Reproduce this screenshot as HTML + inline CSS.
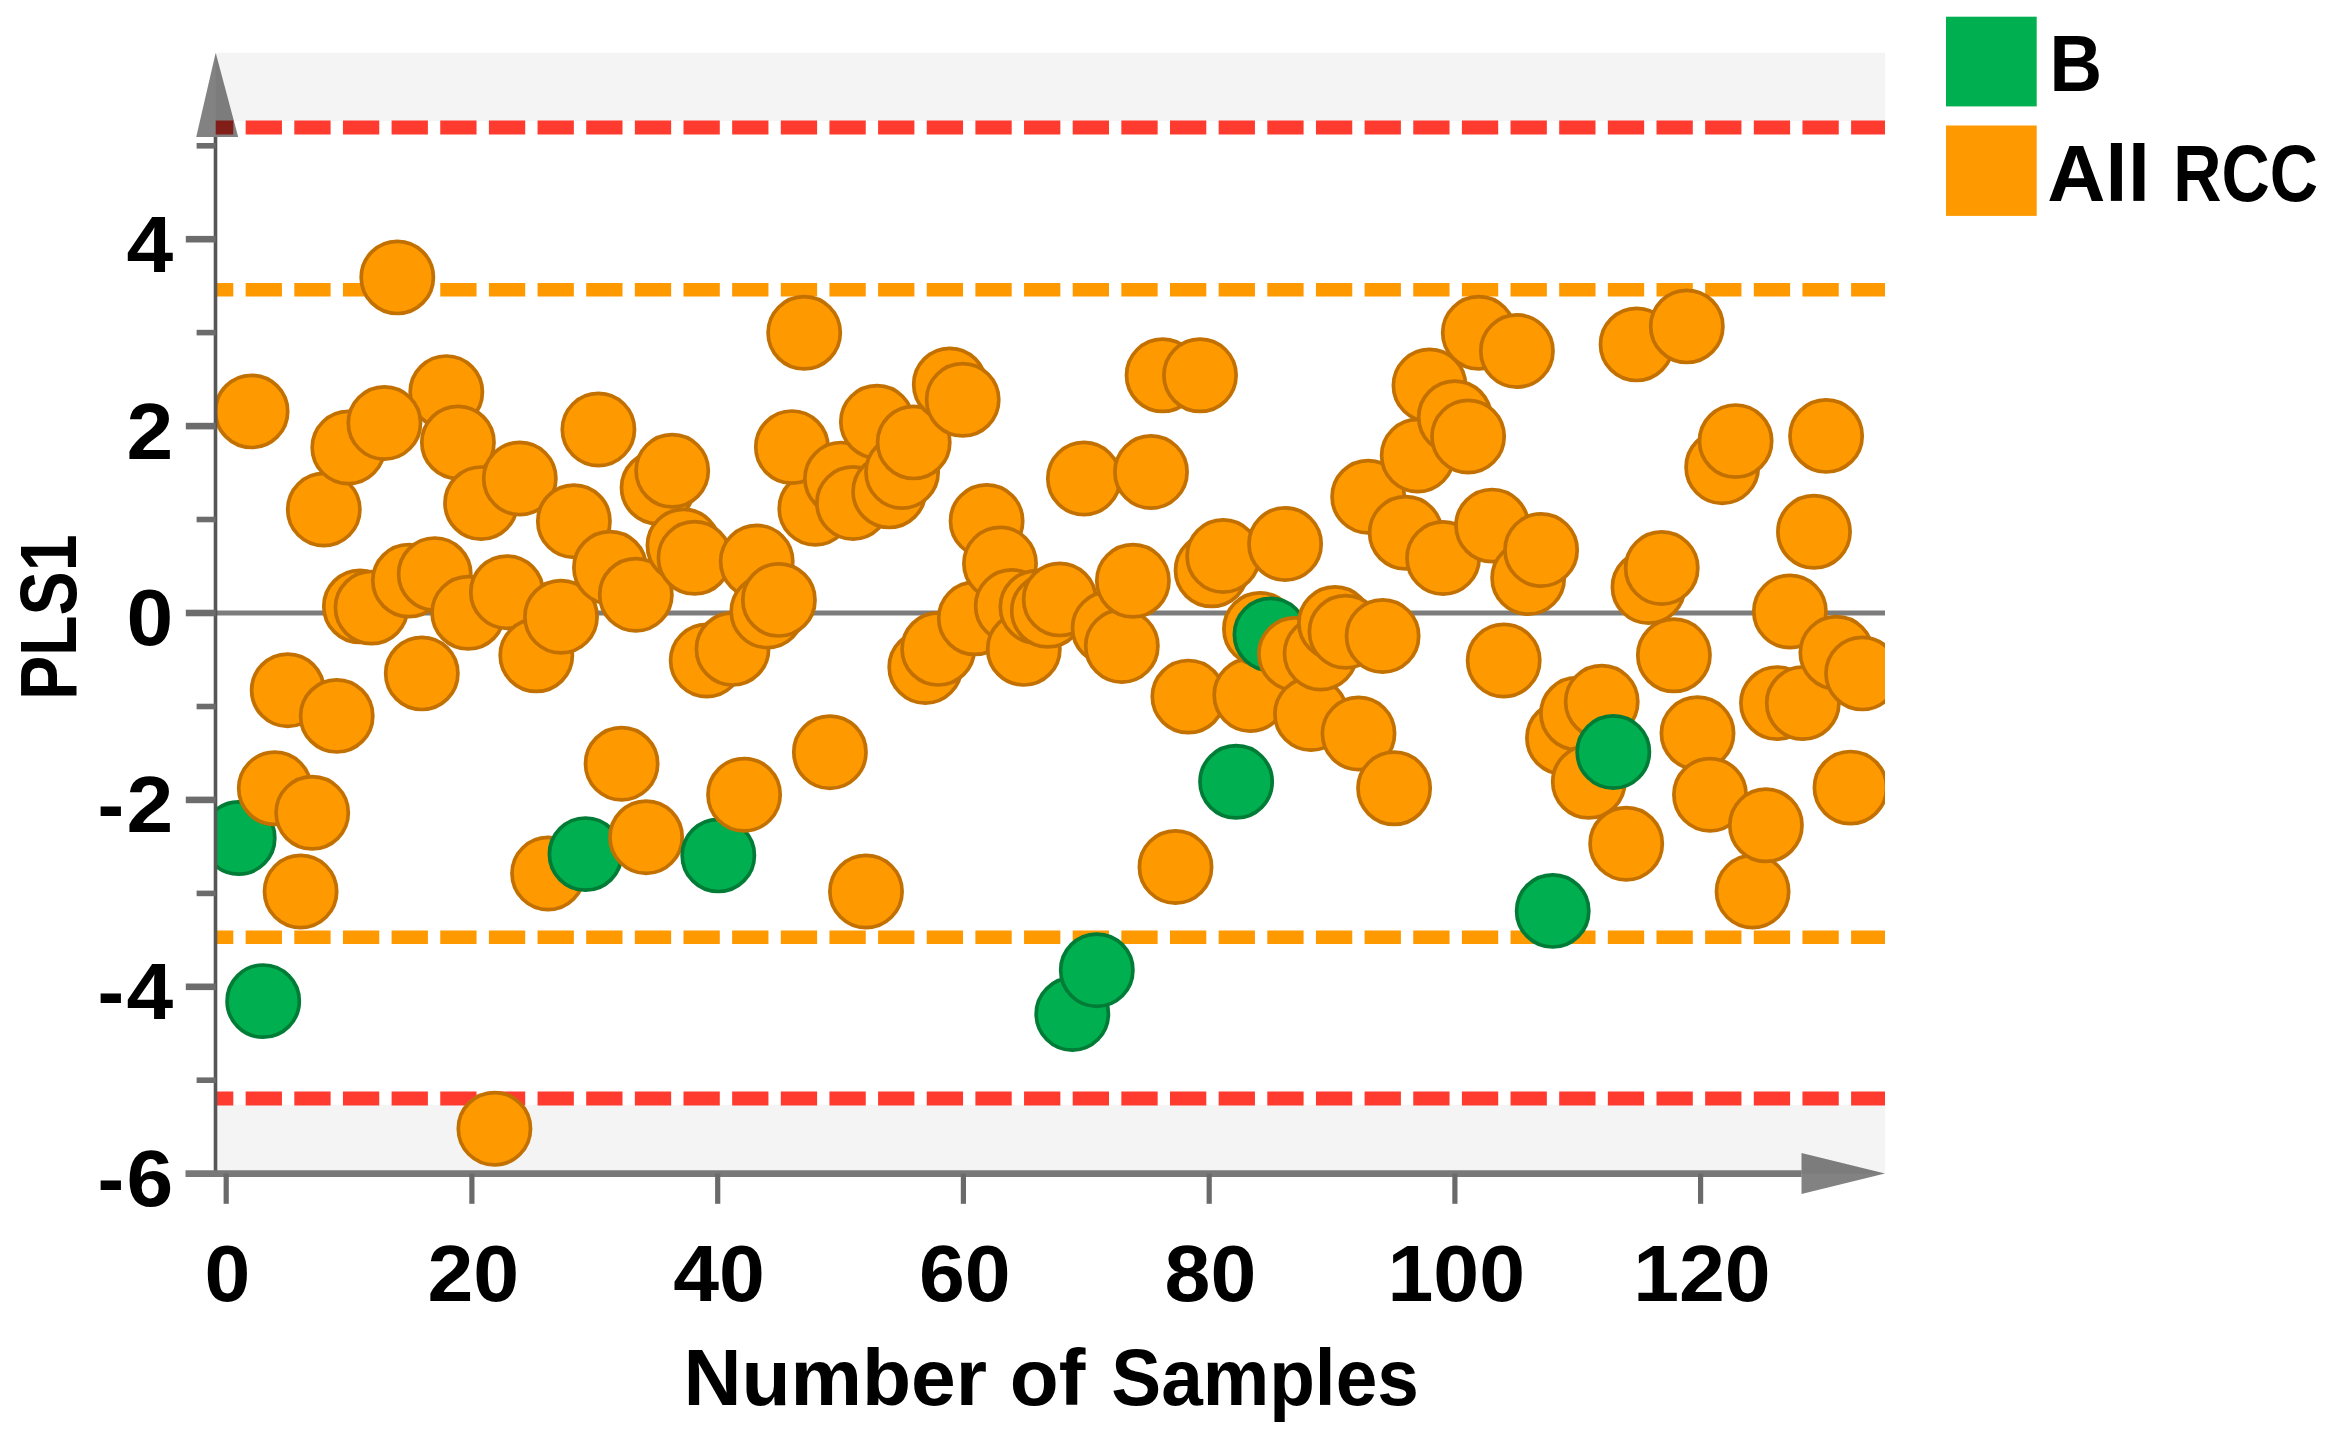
<!DOCTYPE html>
<html lang="en"><head><meta charset="utf-8"><title>PLS1 score plot</title>
<style>
html,body{margin:0;padding:0;background:#fff;}
body{width:2327px;height:1444px;overflow:hidden;}
svg{display:block;}
text{font-family:"Liberation Sans","DejaVu Sans",sans-serif;font-weight:700;fill:#000;}
</style></head><body>
<svg width="2327" height="1444" viewBox="0 0 2327 1444">
<defs><clipPath id="plot"><rect x="216.5" y="52.8" width="1668.5" height="1120.8"/></clipPath></defs>
<rect x="0" y="0" width="2327" height="1444" fill="#fff"/>
<rect x="215.7" y="52.8" width="1669.3" height="68.2" fill="#f4f4f4"/>
<rect x="215.7" y="1105" width="1669.3" height="68.59999999999991" fill="#f4f4f4"/>
<line x1="215.7" y1="613.0" x2="1885.0" y2="613.0" stroke="#7c7c7c" stroke-width="5"/>
<line x1="215.7" y1="127.4" x2="1885.0" y2="127.4" stroke="#ff3b30" stroke-width="14" stroke-dasharray="36.3 12.35" stroke-dashoffset="18.7"/>
<line x1="215.7" y1="1098.6" x2="1885.0" y2="1098.6" stroke="#ff3b30" stroke-width="14" stroke-dasharray="36.3 12.35" stroke-dashoffset="18.7"/>
<line x1="215.7" y1="289.7" x2="1885.0" y2="289.7" stroke="#ff9900" stroke-width="13.4" stroke-dasharray="36.3 12.35" stroke-dashoffset="18.7"/>
<line x1="215.7" y1="937.2" x2="1885.0" y2="937.2" stroke="#ff9900" stroke-width="13.4" stroke-dasharray="36.3 12.35" stroke-dashoffset="18.7"/>
<g clip-path="url(#plot)" stroke-width="3.7">
<circle cx="238.7" cy="838" r="36.1" fill="#00b050" stroke="#007c36"/>
<circle cx="251.6" cy="411.4" r="36.1" fill="#ff9900" stroke="#c27000"/>
<circle cx="263.2" cy="1001.1" r="36.1" fill="#00b050" stroke="#007c36"/>
<circle cx="274.8" cy="788.3" r="36.1" fill="#ff9900" stroke="#c27000"/>
<circle cx="287.7" cy="690.2" r="36.1" fill="#ff9900" stroke="#c27000"/>
<circle cx="300.6" cy="891.5" r="36.1" fill="#ff9900" stroke="#c27000"/>
<circle cx="312.2" cy="812.8" r="36.1" fill="#ff9900" stroke="#c27000"/>
<circle cx="323.8" cy="509.5" r="36.1" fill="#ff9900" stroke="#c27000"/>
<circle cx="336.7" cy="715.9" r="36.1" fill="#ff9900" stroke="#c27000"/>
<circle cx="348.3" cy="447.5" r="36.1" fill="#ff9900" stroke="#c27000"/>
<circle cx="359.9" cy="606.4" r="36.1" fill="#ff9900" stroke="#c27000"/>
<circle cx="371.5" cy="607.6" r="36.1" fill="#ff9900" stroke="#c27000"/>
<circle cx="397.3" cy="277.4" r="36.1" fill="#ff9900" stroke="#c27000"/>
<circle cx="408.9" cy="580.6" r="36.1" fill="#ff9900" stroke="#c27000"/>
<circle cx="421.8" cy="673.4" r="36.1" fill="#ff9900" stroke="#c27000"/>
<circle cx="434.7" cy="574.1" r="36.1" fill="#ff9900" stroke="#c27000"/>
<circle cx="446.3" cy="392.1" r="36.1" fill="#ff9900" stroke="#c27000"/>
<circle cx="384.4" cy="423.0" r="36.1" fill="#ff9900" stroke="#c27000"/>
<circle cx="457.9" cy="442.4" r="36.1" fill="#ff9900" stroke="#c27000"/>
<circle cx="468.2" cy="612.8" r="36.1" fill="#ff9900" stroke="#c27000"/>
<circle cx="481.1" cy="503.1" r="36.1" fill="#ff9900" stroke="#c27000"/>
<circle cx="494.4" cy="1128.7" r="36.1" fill="#ff9900" stroke="#c27000"/>
<circle cx="506.9" cy="592.2" r="36.1" fill="#ff9900" stroke="#c27000"/>
<circle cx="519.8" cy="478.5" r="36.1" fill="#ff9900" stroke="#c27000"/>
<circle cx="536.3" cy="655.3" r="36.1" fill="#ff9900" stroke="#c27000"/>
<circle cx="548.1" cy="873.5" r="36.1" fill="#ff9900" stroke="#c27000"/>
<circle cx="561.0" cy="616.7" r="36.1" fill="#ff9900" stroke="#c27000"/>
<circle cx="573.9" cy="521.2" r="36.1" fill="#ff9900" stroke="#c27000"/>
<circle cx="585.5" cy="854.1" r="36.1" fill="#00b050" stroke="#007c36"/>
<circle cx="598.4" cy="429.5" r="36.1" fill="#ff9900" stroke="#c27000"/>
<circle cx="610.0" cy="567.7" r="36.1" fill="#ff9900" stroke="#c27000"/>
<circle cx="621.6" cy="763.7" r="36.1" fill="#ff9900" stroke="#c27000"/>
<circle cx="635.8" cy="594.7" r="36.1" fill="#ff9900" stroke="#c27000"/>
<circle cx="646.1" cy="837.2" r="36.1" fill="#ff9900" stroke="#c27000"/>
<circle cx="657.6" cy="487.6" r="36.1" fill="#ff9900" stroke="#c27000"/>
<circle cx="672.2" cy="470.8" r="36.1" fill="#ff9900" stroke="#c27000"/>
<circle cx="683.5" cy="545.5" r="36.1" fill="#ff9900" stroke="#c27000"/>
<circle cx="694.5" cy="557.8" r="36.1" fill="#ff9900" stroke="#c27000"/>
<circle cx="706.7" cy="660.5" r="36.1" fill="#ff9900" stroke="#c27000"/>
<circle cx="718.3" cy="855.4" r="36.1" fill="#00b050" stroke="#007c36"/>
<circle cx="732.5" cy="648.9" r="36.1" fill="#ff9900" stroke="#c27000"/>
<circle cx="744.1" cy="794.7" r="36.1" fill="#ff9900" stroke="#c27000"/>
<circle cx="756.7" cy="561.5" r="36.1" fill="#ff9900" stroke="#c27000"/>
<circle cx="767.3" cy="611.5" r="36.1" fill="#ff9900" stroke="#c27000"/>
<circle cx="778.9" cy="599.9" r="36.1" fill="#ff9900" stroke="#c27000"/>
<circle cx="804.2" cy="332.8" r="36.1" fill="#ff9900" stroke="#c27000"/>
<circle cx="815.3" cy="508.7" r="36.1" fill="#ff9900" stroke="#c27000"/>
<circle cx="791.9" cy="447.1" r="36.1" fill="#ff9900" stroke="#c27000"/>
<circle cx="829.9" cy="752.2" r="36.1" fill="#ff9900" stroke="#c27000"/>
<circle cx="841" cy="478.6" r="36.1" fill="#ff9900" stroke="#c27000"/>
<circle cx="853" cy="503" r="36.1" fill="#ff9900" stroke="#c27000"/>
<circle cx="866.0" cy="891.5" r="36.1" fill="#ff9900" stroke="#c27000"/>
<circle cx="876.9" cy="421.8" r="36.1" fill="#ff9900" stroke="#c27000"/>
<circle cx="889.2" cy="491.4" r="36.1" fill="#ff9900" stroke="#c27000"/>
<circle cx="902.1" cy="472.0" r="36.1" fill="#ff9900" stroke="#c27000"/>
<circle cx="913.7" cy="442.4" r="36.1" fill="#ff9900" stroke="#c27000"/>
<circle cx="925.3" cy="667" r="36.1" fill="#ff9900" stroke="#c27000"/>
<circle cx="938.2" cy="648.9" r="36.1" fill="#ff9900" stroke="#c27000"/>
<circle cx="949.8" cy="384.4" r="36.1" fill="#ff9900" stroke="#c27000"/>
<circle cx="962.7" cy="399.8" r="36.1" fill="#ff9900" stroke="#c27000"/>
<circle cx="974.8" cy="618.3" r="36.1" fill="#ff9900" stroke="#c27000"/>
<circle cx="986.6" cy="521" r="36.1" fill="#ff9900" stroke="#c27000"/>
<circle cx="1000" cy="563.5" r="36.1" fill="#ff9900" stroke="#c27000"/>
<circle cx="1011.7" cy="606" r="36.1" fill="#ff9900" stroke="#c27000"/>
<circle cx="1023.8" cy="648.9" r="36.1" fill="#ff9900" stroke="#c27000"/>
<circle cx="1036.4" cy="606.9" r="36.1" fill="#ff9900" stroke="#c27000"/>
<circle cx="1047.8" cy="610.8" r="36.1" fill="#ff9900" stroke="#c27000"/>
<circle cx="1059.7" cy="599.4" r="36.1" fill="#ff9900" stroke="#c27000"/>
<circle cx="1072.3" cy="1014" r="36.1" fill="#00b050" stroke="#007c36"/>
<circle cx="1083.9" cy="478.5" r="36.1" fill="#ff9900" stroke="#c27000"/>
<circle cx="1096.8" cy="970.2" r="36.1" fill="#00b050" stroke="#007c36"/>
<circle cx="1108.6" cy="628" r="36.1" fill="#ff9900" stroke="#c27000"/>
<circle cx="1121.8" cy="646" r="36.1" fill="#ff9900" stroke="#c27000"/>
<circle cx="1132.9" cy="580.8" r="36.1" fill="#ff9900" stroke="#c27000"/>
<circle cx="1151" cy="472" r="36.1" fill="#ff9900" stroke="#c27000"/>
<circle cx="1162.6" cy="375.3" r="36.1" fill="#ff9900" stroke="#c27000"/>
<circle cx="1175.5" cy="867" r="36.1" fill="#ff9900" stroke="#c27000"/>
<circle cx="1188.4" cy="696.6" r="36.1" fill="#ff9900" stroke="#c27000"/>
<circle cx="1200" cy="375.3" r="36.1" fill="#ff9900" stroke="#c27000"/>
<circle cx="1211.6" cy="570.3" r="36.1" fill="#ff9900" stroke="#c27000"/>
<circle cx="1223.2" cy="556" r="36.1" fill="#ff9900" stroke="#c27000"/>
<circle cx="1236.1" cy="781.8" r="36.1" fill="#00b050" stroke="#007c36"/>
<circle cx="1250.3" cy="695" r="36.1" fill="#ff9900" stroke="#c27000"/>
<circle cx="1260" cy="629" r="36.1" fill="#ff9900" stroke="#c27000"/>
<circle cx="1270.5" cy="634.5" r="36.1" fill="#00b050" stroke="#007c36"/>
<circle cx="1285.1" cy="544" r="36.1" fill="#ff9900" stroke="#c27000"/>
<circle cx="1295" cy="654" r="36.1" fill="#ff9900" stroke="#c27000"/>
<circle cx="1311" cy="714" r="36.1" fill="#ff9900" stroke="#c27000"/>
<circle cx="1320.6" cy="653.5" r="36.1" fill="#ff9900" stroke="#c27000"/>
<circle cx="1335" cy="623" r="36.1" fill="#ff9900" stroke="#c27000"/>
<circle cx="1345.5" cy="631.7" r="36.1" fill="#ff9900" stroke="#c27000"/>
<circle cx="1358.5" cy="733.5" r="36.1" fill="#ff9900" stroke="#c27000"/>
<circle cx="1368.2" cy="496.7" r="36.1" fill="#ff9900" stroke="#c27000"/>
<circle cx="1382.6" cy="636" r="36.1" fill="#ff9900" stroke="#c27000"/>
<circle cx="1394.1" cy="788.3" r="36.1" fill="#ff9900" stroke="#c27000"/>
<circle cx="1405.7" cy="532.8" r="36.1" fill="#ff9900" stroke="#c27000"/>
<circle cx="1417.7" cy="455.5" r="36.1" fill="#ff9900" stroke="#c27000"/>
<circle cx="1429.5" cy="385.5" r="36.1" fill="#ff9900" stroke="#c27000"/>
<circle cx="1443.1" cy="558" r="36.1" fill="#ff9900" stroke="#c27000"/>
<circle cx="1454.8" cy="417.2" r="36.1" fill="#ff9900" stroke="#c27000"/>
<circle cx="1468.1" cy="436.5" r="36.1" fill="#ff9900" stroke="#c27000"/>
<circle cx="1478.8" cy="332.8" r="36.1" fill="#ff9900" stroke="#c27000"/>
<circle cx="1492.1" cy="525.6" r="36.1" fill="#ff9900" stroke="#c27000"/>
<circle cx="1503.7" cy="660.5" r="36.1" fill="#ff9900" stroke="#c27000"/>
<circle cx="1516.9" cy="351" r="36.1" fill="#ff9900" stroke="#c27000"/>
<circle cx="1528.2" cy="578" r="36.1" fill="#ff9900" stroke="#c27000"/>
<circle cx="1541.1" cy="550" r="36.1" fill="#ff9900" stroke="#c27000"/>
<circle cx="1552.7" cy="910.9" r="36.1" fill="#00b050" stroke="#007c36"/>
<circle cx="1563" cy="737.9" r="36.1" fill="#ff9900" stroke="#c27000"/>
<circle cx="1577" cy="713.6" r="36.1" fill="#ff9900" stroke="#c27000"/>
<circle cx="1588.8" cy="781.8" r="36.1" fill="#ff9900" stroke="#c27000"/>
<circle cx="1601.7" cy="701.8" r="36.1" fill="#ff9900" stroke="#c27000"/>
<circle cx="1613.3" cy="752" r="36.1" fill="#00b050" stroke="#007c36"/>
<circle cx="1626.2" cy="843.7" r="36.1" fill="#ff9900" stroke="#c27000"/>
<circle cx="1636.6" cy="344.4" r="36.1" fill="#ff9900" stroke="#c27000"/>
<circle cx="1648.5" cy="587" r="36.1" fill="#ff9900" stroke="#c27000"/>
<circle cx="1661.7" cy="568" r="36.1" fill="#ff9900" stroke="#c27000"/>
<circle cx="1673.9" cy="655.3" r="36.1" fill="#ff9900" stroke="#c27000"/>
<circle cx="1686.8" cy="326.4" r="36.1" fill="#ff9900" stroke="#c27000"/>
<circle cx="1697.5" cy="733.3" r="36.1" fill="#ff9900" stroke="#c27000"/>
<circle cx="1710" cy="794.7" r="36.1" fill="#ff9900" stroke="#c27000"/>
<circle cx="1722.2" cy="467.2" r="36.1" fill="#ff9900" stroke="#c27000"/>
<circle cx="1735.6" cy="441.1" r="36.1" fill="#ff9900" stroke="#c27000"/>
<circle cx="1752.6" cy="891.5" r="36.1" fill="#ff9900" stroke="#c27000"/>
<circle cx="1765.9" cy="825.3" r="36.1" fill="#ff9900" stroke="#c27000"/>
<circle cx="1777" cy="703.1" r="36.1" fill="#ff9900" stroke="#c27000"/>
<circle cx="1789.9" cy="611.5" r="36.1" fill="#ff9900" stroke="#c27000"/>
<circle cx="1802.8" cy="703.1" r="36.1" fill="#ff9900" stroke="#c27000"/>
<circle cx="1814" cy="531.8" r="36.1" fill="#ff9900" stroke="#c27000"/>
<circle cx="1826.1" cy="435.9" r="36.1" fill="#ff9900" stroke="#c27000"/>
<circle cx="1836.4" cy="652.8" r="36.1" fill="#ff9900" stroke="#c27000"/>
<circle cx="1850.5" cy="787.6" r="36.1" fill="#ff9900" stroke="#c27000"/>
<circle cx="1862.1" cy="673.4" r="36.1" fill="#ff9900" stroke="#c27000"/>
</g>
<line x1="215.5" y1="137" x2="215.5" y2="1176.6" stroke="#565656" stroke-width="3.6"/>
<line x1="185.5" y1="1173.6" x2="1801.5" y2="1173.6" stroke="#787878" stroke-width="6.6"/>
<line x1="185.8" y1="239.2" x2="215.7" y2="239.2" stroke="#6c6c6c" stroke-width="6.6"/>
<line x1="185.8" y1="426.1" x2="215.7" y2="426.1" stroke="#6c6c6c" stroke-width="6.6"/>
<line x1="185.8" y1="613.0" x2="215.7" y2="613.0" stroke="#6c6c6c" stroke-width="6.6"/>
<line x1="185.8" y1="799.9" x2="215.7" y2="799.9" stroke="#6c6c6c" stroke-width="6.6"/>
<line x1="185.8" y1="986.8" x2="215.7" y2="986.8" stroke="#6c6c6c" stroke-width="6.6"/>
<line x1="196.6" y1="145.8" x2="215.7" y2="145.8" stroke="#6c6c6c" stroke-width="5.6"/>
<line x1="196.6" y1="332.6" x2="215.7" y2="332.6" stroke="#6c6c6c" stroke-width="5.6"/>
<line x1="196.6" y1="519.5" x2="215.7" y2="519.5" stroke="#6c6c6c" stroke-width="5.6"/>
<line x1="196.6" y1="706.5" x2="215.7" y2="706.5" stroke="#6c6c6c" stroke-width="5.6"/>
<line x1="196.6" y1="893.4" x2="215.7" y2="893.4" stroke="#6c6c6c" stroke-width="5.6"/>
<line x1="196.6" y1="1080.2" x2="215.7" y2="1080.2" stroke="#6c6c6c" stroke-width="5.6"/>
<line x1="226.2" y1="1173.6" x2="226.2" y2="1203.8" stroke="#6a6a6a" stroke-width="5.2"/>
<line x1="471.9" y1="1173.6" x2="471.9" y2="1203.8" stroke="#6a6a6a" stroke-width="5.2"/>
<line x1="717.7" y1="1173.6" x2="717.7" y2="1203.8" stroke="#6a6a6a" stroke-width="5.2"/>
<line x1="963.4" y1="1173.6" x2="963.4" y2="1203.8" stroke="#6a6a6a" stroke-width="5.2"/>
<line x1="1209.2" y1="1173.6" x2="1209.2" y2="1203.8" stroke="#6a6a6a" stroke-width="5.2"/>
<line x1="1454.9" y1="1173.6" x2="1454.9" y2="1203.8" stroke="#6a6a6a" stroke-width="5.2"/>
<line x1="1700.6" y1="1173.6" x2="1700.6" y2="1203.8" stroke="#6a6a6a" stroke-width="5.2"/>
<polygon points="215.7,52.8 196.2,137 238.2,137" fill="#000" fill-opacity="0.49"/>
<polygon points="1885,1173.6 1801.5,1153.1 1801.5,1194.1" fill="#000" fill-opacity="0.49"/>
<text x="126.5" y="271.6" font-size="80" textLength="46.7" lengthAdjust="spacingAndGlyphs">4</text>
<text x="126.5" y="458.5" font-size="80" textLength="46.7" lengthAdjust="spacingAndGlyphs">2</text>
<text x="126.5" y="645.4" font-size="80" textLength="46.7" lengthAdjust="spacingAndGlyphs">0</text>
<text y="832.3" font-size="80"><tspan x="97.6">-</tspan><tspan x="126.5" textLength="46.7" lengthAdjust="spacingAndGlyphs">2</tspan></text>
<text y="1019.2" font-size="80"><tspan x="97.6">-</tspan><tspan x="126.5" textLength="46.7" lengthAdjust="spacingAndGlyphs">4</tspan></text>
<text y="1206.1" font-size="80"><tspan x="97.6">-</tspan><tspan x="126.5" textLength="46.7" lengthAdjust="spacingAndGlyphs">6</tspan></text>
<text x="204.6" y="1301.2" font-size="80" textLength="45.8" lengthAdjust="spacingAndGlyphs">0</text>
<text x="427.4" y="1301.2" font-size="80" textLength="91.7" lengthAdjust="spacingAndGlyphs">20</text>
<text x="673.2" y="1301.2" font-size="80" textLength="91.7" lengthAdjust="spacingAndGlyphs">40</text>
<text x="918.9" y="1301.2" font-size="80" textLength="91.7" lengthAdjust="spacingAndGlyphs">60</text>
<text x="1164.6" y="1301.2" font-size="80" textLength="91.7" lengthAdjust="spacingAndGlyphs">80</text>
<text x="1387.5" y="1301.2" font-size="80" textLength="137.5" lengthAdjust="spacingAndGlyphs">100</text>
<text x="1633.2" y="1301.2" font-size="80" textLength="137.5" lengthAdjust="spacingAndGlyphs">120</text>
<text y="1405" font-size="80"><tspan x="683.4" textLength="303.7" lengthAdjust="spacingAndGlyphs">Number</tspan> <tspan x="1009.8" textLength="75.6" lengthAdjust="spacingAndGlyphs">of</tspan> <tspan x="1111.3" textLength="307.5" lengthAdjust="spacingAndGlyphs">Samples</tspan></text>
<text transform="translate(75.6,700.1) rotate(-90)" font-size="80" textLength="165.7" lengthAdjust="spacingAndGlyphs">PLS1</text>
<rect x="1946" y="16.7" width="90.7" height="89.7" fill="#00b050"/>
<rect x="1946" y="125.5" width="90.7" height="90.4" fill="#ff9900"/>
<text x="2049.4" y="91.4" font-size="80" textLength="52.6" lengthAdjust="spacingAndGlyphs">B</text>
<text y="200.8" font-size="80"><tspan x="2047.2" textLength="102.9" lengthAdjust="spacingAndGlyphs">All</tspan> <tspan x="2173.3" textLength="144.8" lengthAdjust="spacingAndGlyphs">RCC</tspan></text>
</svg>
</body></html>
